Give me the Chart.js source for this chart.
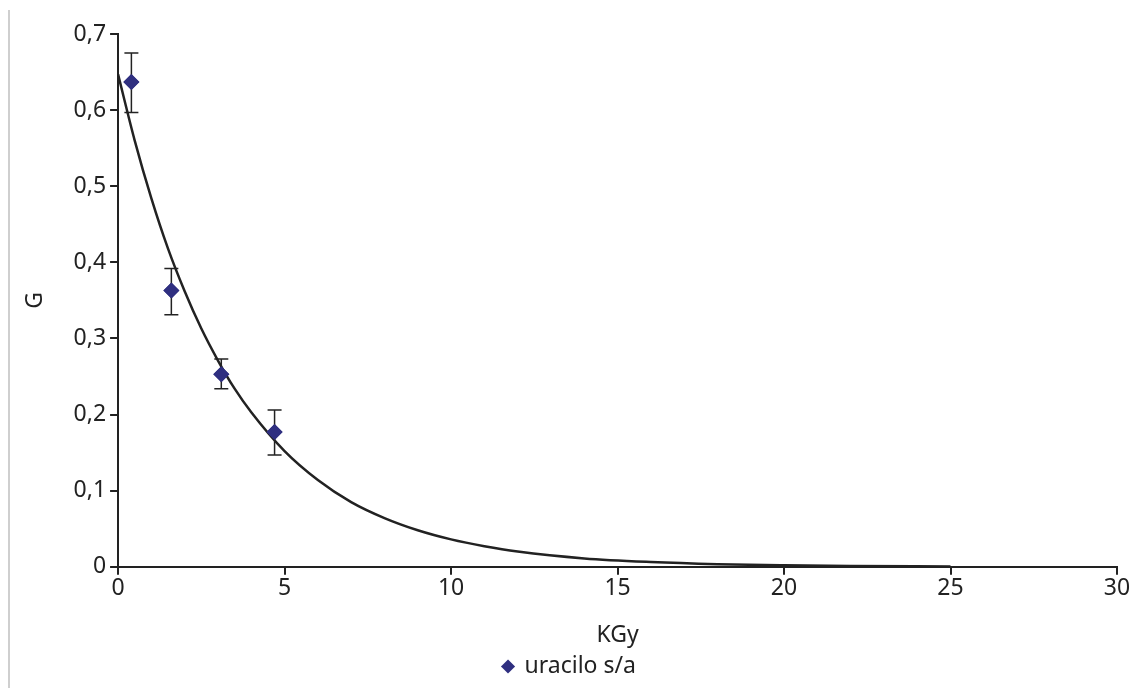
<!DOCTYPE html>
<html>
<head>
<meta charset="utf-8">
<script src="https://cdn.jsdelivr.net/npm/chart.js@4"></script>
<style>
  html, body { margin: 0; padding: 0; background: #fff; }
  #wrap { position: relative; width: 1133px; height: 688px; }
  #edge { position: absolute; left: 8px; top: 10px; bottom: 0; width: 2px; background: #cfcfcf; }
</style>
</head>
<body>
<div id="wrap">
  <div id="edge"></div>
  <canvas id="chart" width="1133" height="688"></canvas>
</div>
<script>
// measured points (dose in KGy, G value) with error bar bounds
var doses = [0.4, 1.6, 3.1, 4.7];
var gValues = [0.637, 0.363, 0.253, 0.177];
var errHigh = [0.675, 0.392, 0.273, 0.206];
var errLow = [0.597, 0.331, 0.234, 0.147];

// fitted decay curve
var curveX = [0, 0.5, 1, 1.5, 2, 2.5, 3, 3.5, 4, 5, 6, 7, 8, 9, 10, 11, 12, 14, 16, 18, 20, 22, 25];
var curveY = [0.647, 0.56, 0.484, 0.418, 0.362, 0.313, 0.271, 0.234, 0.203, 0.152, 0.114, 0.085, 0.064, 0.048, 0.036, 0.027, 0.020, 0.011, 0.0063, 0.0035, 0.002, 0.0011, 0.0005];

var seriesLabel = 'uracilo s/a';
var xTitle = 'KGy';
var yTitle = 'G';

var ink = '#222';
var markerColor = '#2f2f80';
var font = { family: '"Noto Sans", sans-serif', size: 23 };

var pts = doses.map(function (d, i) { return { x: d, y: gValues[i] }; });
var curve = curveX.map(function (d, i) { return { x: d, y: curveY[i] }; });

var errorBars = {
    id: 'errorBars',
    afterDatasetsDraw: function (chart) {
        var ctx = chart.ctx;
        var xs = chart.scales.x, ys = chart.scales.y;
        ctx.save();
        ctx.strokeStyle = ink;
        ctx.lineWidth = 1.5;
        for (var i = 0; i < doses.length; i++) {
            var px = xs.getPixelForValue(doses[i]);
            var top = ys.getPixelForValue(errHigh[i]);
            var bot = ys.getPixelForValue(errLow[i]);
            ctx.beginPath();
            ctx.moveTo(px, top); ctx.lineTo(px, bot);
            ctx.moveTo(px - 7, top); ctx.lineTo(px + 7, top);
            ctx.moveTo(px - 7, bot); ctx.lineTo(px + 7, bot);
            ctx.stroke();
        }
        ctx.restore();
        // redraw markers on top of the bars
        chart.getDatasetMeta(0).controller.draw();
    }
};

function comma(v) {
    return (Math.round(v * 10) / 10).toString().replace('.', ',');
}

var ctx = document.getElementById('chart').getContext('2d');
var myChart = new Chart(ctx, {
    type: 'scatter',
    data: {
        datasets: [{
            label: seriesLabel,
            data: pts,
            pointStyle: 'rectRot',
            pointRadius: 8,
            backgroundColor: markerColor,
            borderColor: markerColor,
            borderWidth: 0,
            order: 0
        }, {
            label: 'fit',
            type: 'line',
            data: curve,
            borderColor: ink,
            borderWidth: 2.5,
            pointRadius: 0,
            cubicInterpolationMode: 'monotone',
            fill: false,
            order: 1
        }]
    },
    options: {
        responsive: false,
        animation: false,
        layout: { padding: { left: 22, right: 16, top: 34, bottom: 0 } },
        plugins: {
            tooltip: { enabled: false },
            legend: {
                position: 'bottom',
                labels: {
                    filter: function (item) { return item.datasetIndex === 0; },
                    usePointStyle: true,
                    pointStyle: 'rectRot',
                    boxWidth: 10,
                    boxHeight: 10,
                    padding: 6,
                    color: ink,
                    font: font
                }
            }
        },
        scales: {
            x: {
                type: 'linear',
                min: 0,
                max: 30,
                ticks: { stepSize: 5, color: ink, font: font, padding: 0 },
                grid: { drawOnChartArea: false, drawTicks: true, tickLength: 8, color: ink, lineWidth: 2 },
                border: { color: ink, width: 2 },
                title: { display: true, text: xTitle, color: ink, font: font, padding: { top: 19, bottom: 0 } }
            },
            y: {
                min: 0,
                max: 0.7,
                ticks: { stepSize: 0.1, color: ink, font: font, padding: 4, callback: comma },
                grid: { drawOnChartArea: false, drawTicks: true, tickLength: 8, color: ink, lineWidth: 2 },
                border: { color: ink, width: 2 },
                title: { display: true, text: yTitle, color: ink, font: font, padding: { top: 0, bottom: 20 } }
            }
        }
    },
    plugins: [errorBars]
});
</script>
</body>
</html>
